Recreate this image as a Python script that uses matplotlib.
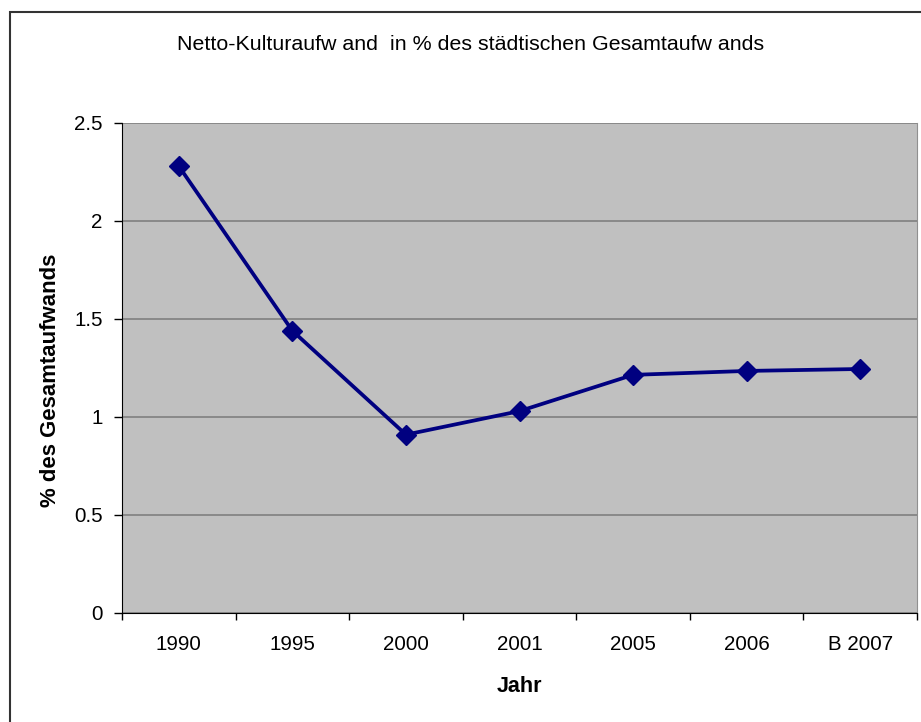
# Netto-Kulturaufwand chart (Excel style)
import matplotlib.pyplot as plt
from matplotlib.patches import Rectangle

plt.rcParams['font.family'] = ['Liberation Sans', 'DejaVu Sans']

# Data
years = ['1990', '1995', '2000', '2001', '2005', '2006', 'B 2007']
anteil = [2.28, 1.44, 0.91, 1.03, 1.215, 1.235, 1.245]
y_ticks = [0, 0.5, 1, 1.5, 2, 2.5]
y_labels = ['0', '0.5', '1', '1.5', '2', '2.5']

fig = plt.figure(figsize=(9.21, 7.22), dpi=100)

# outer chart border (only top and left visible in the cropped screenshot)
fig.patches.append(Rectangle((10 / 921, -0.1), 1.2, 1 - 12 / 722 + 0.1,
                             transform=fig.transFigure, fill=False,
                             edgecolor='#333333', linewidth=1.5))

ax = fig.add_axes([122 / 921, 1 - 613 / 722, 795 / 921, 490 / 722])
ax.set_facecolor('#C0C0C0')

x = list(range(len(years)))
ax.plot(x, anteil, color='#000080', linewidth=2.7, marker='D',
        markersize=10, zorder=3)

ax.set_xlim(-0.5, len(years) - 0.5)
ax.set_ylim(0, 2.5)

# category labels centered, ticks between categories
ax.set_xticks(x)
ax.set_xticklabels(years, fontsize=14.8)
ax.set_xticks([i - 0.5 for i in range(len(years) + 1)], minor=True)
ax.tick_params(axis='x', which='major', length=0, pad=16)
ax.tick_params(axis='x', which='minor', length=5, width=1, direction='out')

ax.set_yticks(y_ticks)
ax.set_yticklabels(y_labels, fontsize=14.8)
ax.tick_params(axis='y', length=6, width=1, direction='out', pad=8)

ax.grid(axis='y', color='#808080', linewidth=1.2)
ax.set_axisbelow(True)

ax.spines['top'].set_visible(False)
ax.spines['right'].set_color('#909090')
ax.spines['left'].set_color('black')
ax.spines['bottom'].set_color('black')

fig.text(471 / 921, 1 - 45 / 722,
         'Netto-Kulturaufw and  in % des städtischen Gesamtaufw ands',
         ha='center', va='center', fontsize=15.4)
fig.text(519 / 921, 1 - 687 / 722, 'Jahr', ha='center', va='center',
         fontsize=15.5, fontweight='bold')
fig.text(50 / 921, 1 - 380 / 722, '% des Gesamtaufwands', ha='center',
         va='center', rotation=90, fontsize=15.9, fontweight='bold')

plt.savefig('out.png', dpi=100)
